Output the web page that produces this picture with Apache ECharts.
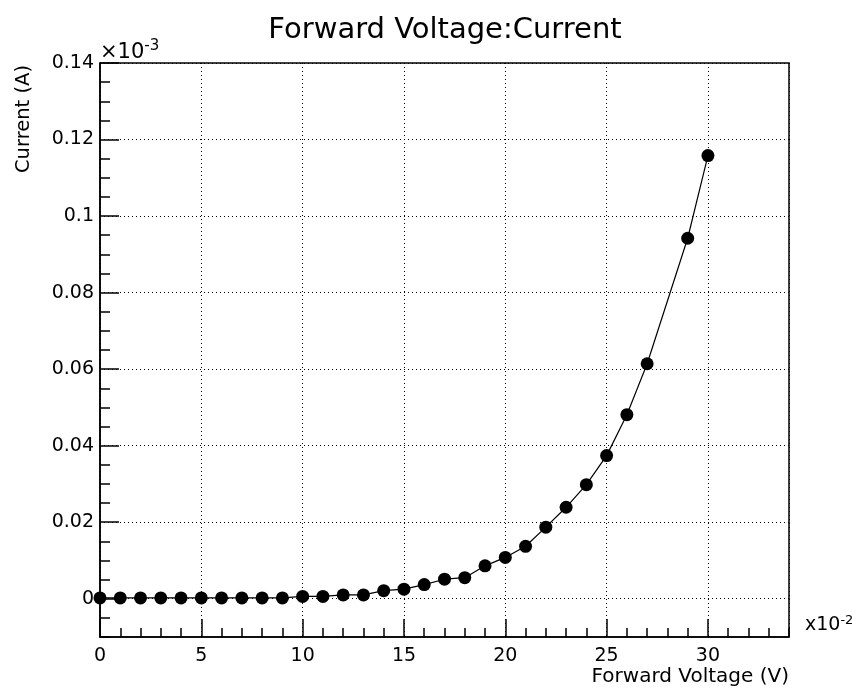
<!DOCTYPE html>
<html>
<head>
<meta charset="utf-8">
<script src="https://cdn.jsdelivr.net/npm/echarts@6/dist/echarts.min.js"></script>
<style>
html,body{margin:0;padding:0;background:#fff;}
#chart{width:852px;height:690px;}
</style>
</head>
<body>
<div id="chart"></div>
<script>
// Data (x in units of 1e-2 V, y in units of 1e-3 A)
const voltage = [0,1,2,3,4,5,6,7,8,9,10,11,12,13,14,15,16,17,18,19,20,21,22,23,24,25,26,27,29,30];
const current = [0.0002,0.0002,0.0002,0.0002,0.0002,0.0002,0.0002,0.0002,0.0002,0.0002,
                 0.0006,0.0006,0.0010,0.0010,0.0021,0.0025,0.0037,0.0051,0.0055,0.0086,
                 0.0108,0.0137,0.0187,0.0239,0.0298,0.0374,0.0481,0.0614,0.0942,0.1158];
const yTickValues = [0,0.02,0.04,0.06,0.08,0.1,0.12,0.14];
const titleText = 'Forward Voltage:Current';
const xTitle = 'Forward Voltage (V)';
const yTitle = 'Current (A)';

const FONT = 'DejaVu Sans';
const chart = echarts.init(document.getElementById('chart'), null, {renderer:'canvas'});
const seriesData = voltage.map((v,i)=>[v,current[i]]);

const option = {
  animation:false,
  backgroundColor:'#fff',
  title:{
    text:titleText,
    left:440, top:11, textAlign:'center',
    textStyle:{fontFamily:FONT,fontSize:29,fontWeight:'normal',color:'#000'}
  },
  grid:{left:100,right:63,top:63,bottom:53,outerBoundsMode:'none',containLabel:false,
        show:true,borderColor:'#000',borderWidth:1.5,backgroundColor:'transparent'},
  xAxis:[{
    type:'value',position:'bottom',min:0,max:34,interval:5,
    axisLine:{show:true,onZero:false,lineStyle:{color:'#000',width:1.5}},
    axisTick:{show:true,inside:true,length:18,lineStyle:{color:'#000',width:1.5}},
    axisLabel:{show:true,showMaxLabel:false,margin:10,color:'#000',fontFamily:FONT,fontSize:19},
    splitLine:{show:true,lineStyle:{color:'#000',type:[1,3],width:1}},
    name:xTitle,nameLocation:'end',nameGap:0,
    nameTextStyle:{fontFamily:FONT,fontSize:20,color:'#000',align:'right',verticalAlign:'top',padding:[30,0,0,0]}
  },{
    type:'value',position:'bottom',min:0,max:34,interval:1,
    axisLine:{show:false,onZero:false},
    axisTick:{show:true,inside:true,length:9,lineStyle:{color:'#000',width:1.5}},
    axisLabel:{show:false},
    splitLine:{show:false},
    name:'x10{sup|-2}',nameLocation:'end',nameGap:16,
    nameTextStyle:{fontFamily:FONT,fontSize:19,color:'#000',align:'left',verticalAlign:'bottom',padding:[0,0,0,0],
      rich:{sup:{fontFamily:FONT,fontSize:13,color:'#000',verticalAlign:'top',padding:[0,0,10,0]}}}
  }],
  yAxis:[{
    type:'value',position:'left',min:-0.01,max:0.14,
    axisLine:{show:true,onZero:false,lineStyle:{color:'#000',width:1.5}},
    axisTick:{show:true,inside:true,length:19,customValues:yTickValues,lineStyle:{color:'#000',width:1.5}},
    axisLabel:{show:true,customValues:yTickValues,margin:6,color:'#000',fontFamily:FONT,fontSize:19,
      formatter:v=>String(parseFloat(Number(v).toFixed(4)))},
    splitLine:{show:true,lineStyle:{color:'#000',type:[1,3],width:1}}
  },{
    type:'value',position:'left',min:-0.01,max:0.14,interval:0.005,
    axisLine:{show:false,onZero:false},
    axisTick:{show:true,inside:true,length:10,lineStyle:{color:'#000',width:1.5}},
    axisLabel:{show:false},
    splitLine:{show:false},
    name:'×10{sup|-3}',nameLocation:'end',nameGap:-3,
    nameTextStyle:{fontFamily:FONT,fontSize:21,color:'#000',align:'left',verticalAlign:'bottom',padding:[0,0,0,0],
      rich:{sup:{fontFamily:FONT,fontSize:15,color:'#000',verticalAlign:'top',padding:[0,0,12,0]}}}
  }],
  graphic:[{
    type:'text',x:14,y:65,rotation:Math.PI/2,
    style:{text:yTitle,fontFamily:FONT,fontSize:19.5,fill:'#000',align:'right',verticalAlign:'top'}
  }],
  series:[{
    type:'line',xAxisIndex:0,yAxisIndex:0,data:seriesData,
    symbol:'circle',symbolSize:13,showSymbol:true,
    itemStyle:{color:'#000'},
    lineStyle:{color:'#000',width:1.2},
    z:5
  }]
};
chart.setOption(option);
</script>
</body>
</html>
